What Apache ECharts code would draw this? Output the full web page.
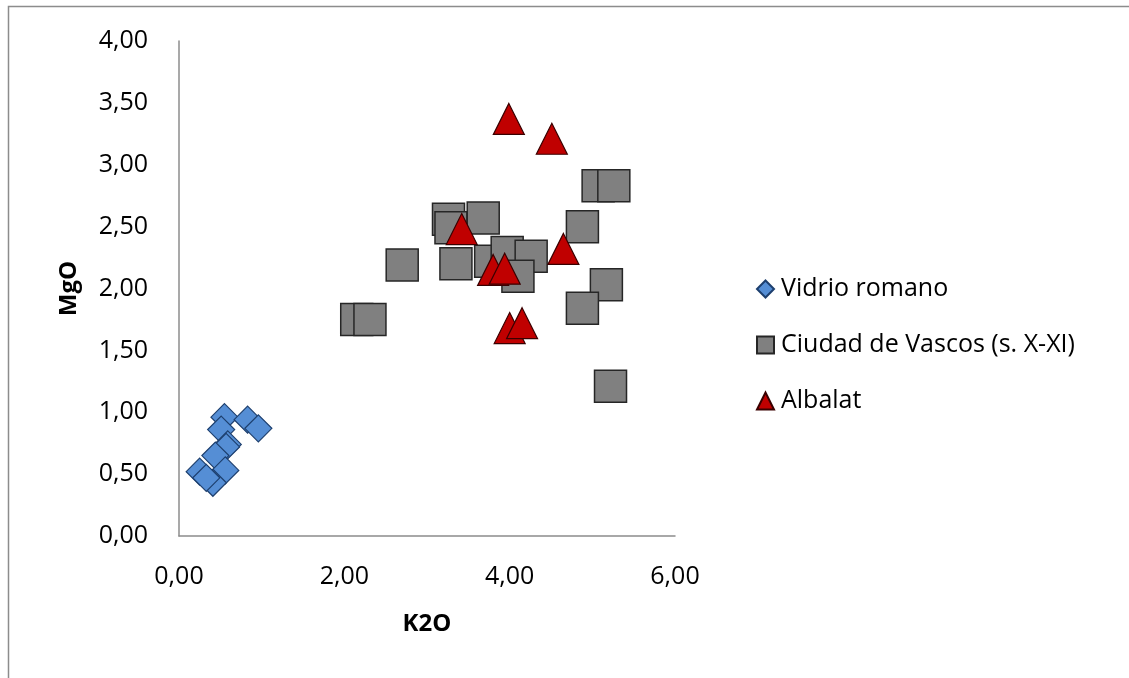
<!DOCTYPE html>
<html>
<head>
<meta charset="utf-8">
<script src="https://cdn.jsdelivr.net/npm/echarts@6/dist/echarts.min.js"></script>
<style>html,body{margin:0;padding:0;background:#fff;}#chart{width:1129px;height:678px;}</style>
</head>
<body>
<div id="chart"></div>
<script>
// Data (K2O, MgO)
const seriesNames = ['Vidrio romano', 'Ciudad de Vascos (s. X-XI)', 'Albalat'];
const xTicks = ['0,00', '2,00', '4,00', '6,00'];
const yTicks = ['0,00', '0,50', '1,00', '1,50', '2,00', '2,50', '3,00', '3,50', '4,00'];

const vidrioK2O = [0.55, 0.83, 0.96, 0.51, 0.59, 0.57, 0.44, 0.56, 0.25, 0.41, 0.33];
const vidrioMgO = [0.96, 0.94, 0.87, 0.86, 0.74, 0.72, 0.65, 0.53, 0.52, 0.43, 0.47];

const vascosK2O = [2.15, 2.31, 2.70, 3.26, 3.29, 3.68, 3.35, 3.77, 3.97, 4.26, 4.10, 4.88, 5.07, 5.26, 5.17, 4.88, 5.22];
const vascosMgO = [1.75, 1.75, 2.19, 2.56, 2.49, 2.57, 2.20, 2.22, 2.29, 2.26, 2.10, 2.50, 2.83, 2.83, 2.03, 1.84, 1.21];

const albalatK2O = [3.99, 4.51, 3.42, 3.80, 3.94, 4.65, 4.00, 4.15];
const albalatMgO = [3.37, 3.21, 2.48, 2.15, 2.16, 2.32, 1.68, 1.72];

const zip = (a, b) => a.map((v, i) => [v, b[i]]);
const fmt = v => v.toFixed(2).replace('.', ',');
const FONT = '"Open Sans", "Noto Sans", sans-serif';

const chart = echarts.init(document.getElementById('chart'), null, {renderer: 'canvas'});
chart.setOption({
  backgroundColor: '#ffffff',
  animation: false,
  graphic: [{
    type: 'rect', silent: true, z: -1,
    shape: {x: 8.5, y: 6.5, width: 1200, height: 700},
    style: {fill: 'none', stroke: '#8c8c8c', lineWidth: 1.5}
  }],
  grid: {left: 179, top: 41, width: 496, height: 495, containLabel: false},
  xAxis: {
    type: 'value', min: 0, max: 6, interval: 2,
    name: 'K2O', nameLocation: 'middle', nameGap: 76,
    nameTextStyle: {fontFamily: FONT, fontSize: 24, fontWeight: 'bold', color: '#000'},
    axisLine: {show: true, lineStyle: {color: '#8c8c8c', width: 1.5}},
    axisTick: {show: false},
    splitLine: {show: false},
    axisLabel: {margin: 28, fontFamily: FONT, fontSize: 25, color: '#000', formatter: v => fmt(v)}
  },
  yAxis: {
    type: 'value', min: 0, max: 4, interval: 0.5,
    name: 'MgO', nameLocation: 'middle', nameGap: 98, nameRotate: 90,
    nameTextStyle: {fontFamily: FONT, fontSize: 24, fontWeight: 'bold', color: '#000'},
    axisLine: {show: true, lineStyle: {color: '#8c8c8c', width: 1.5}},
    axisTick: {show: false},
    splitLine: {show: false},
    axisLabel: {margin: 31, fontFamily: FONT, fontSize: 25, color: '#000', formatter: v => fmt(v)}
  },
  legend: {
    orient: 'vertical', left: 751, top: 271,
    itemWidth: 17, itemHeight: 17, itemGap: 30,
    textStyle: {fontFamily: FONT, fontSize: 25, color: '#000', lineHeight: 26, padding: [0, 0, 0, 2]},
    data: [
      {name: seriesNames[0], icon: 'diamond'},
      {name: seriesNames[1], icon: 'rect'},
      {name: seriesNames[2], icon: 'triangle'}
    ]
  },
  series: [
    {
      name: seriesNames[0], type: 'scatter', symbol: 'diamond', symbolSize: 27,
      itemStyle: {color: '#558ed5', borderColor: '#1d3f6e', borderWidth: 1.2, opacity: 1},
      data: zip(vidrioK2O, vidrioMgO)
    },
    {
      name: seriesNames[1], type: 'scatter', symbol: 'rect', symbolSize: 32,
      itemStyle: {color: '#808080', borderColor: '#262626', borderWidth: 1.5, opacity: 1},
      data: zip(vascosK2O, vascosMgO)
    },
    {
      name: seriesNames[2], type: 'scatter', symbol: 'triangle', symbolSize: 31,
      itemStyle: {color: '#c00000', borderColor: '#3a0000', borderWidth: 1.2, opacity: 1},
      data: zip(albalatK2O, albalatMgO)
    }
  ]
});
</script>
</body>
</html>
